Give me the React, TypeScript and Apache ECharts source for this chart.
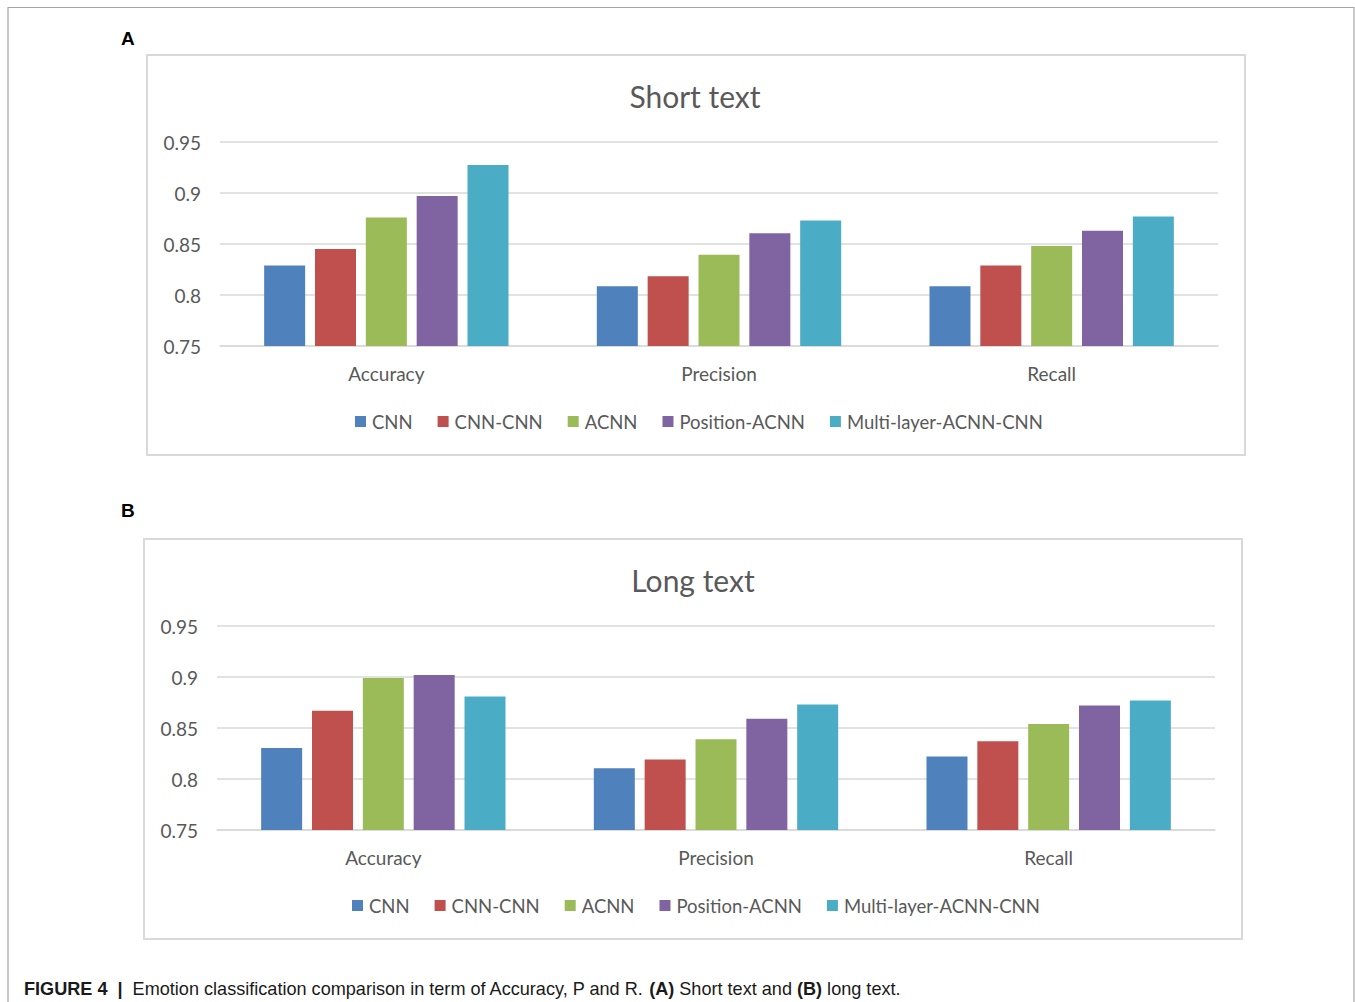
import React, { useEffect, useRef } from "react";
import * as echarts from "echarts";

const categories = ["Accuracy", "Precision", "Recall"];
const seriesNames = ["CNN", "CNN-CNN", "ACNN", "Position-ACNN", "Multi-layer-ACNN-CNN"];
const seriesColors = ["#4f81bd", "#c0504d", "#9bbb59", "#8064a2", "#4bacc6"];
const yTicks = { min: 0.75, max: 0.95, interval: 0.05 };

// Short text (A)
const shortCNN = [0.829, 0.8085, 0.8085];
const shortCNNCNN = [0.845, 0.8185, 0.829];
const shortACNN = [0.876, 0.8395, 0.848];
const shortPositionACNN = [0.897, 0.8605, 0.863];
const shortMultiLayer = [0.9275, 0.873, 0.877];

// Long text (B)
const longCNN = [0.8305, 0.8105, 0.822];
const longCNNCNN = [0.867, 0.819, 0.837];
const longACNN = [0.899, 0.839, 0.854];
const longPositionACNN = [0.902, 0.859, 0.872];
const longMultiLayer = [0.881, 0.873, 0.877];

const shortData = [shortCNN, shortCNNCNN, shortACNN, shortPositionACNN, shortMultiLayer];
const longData = [longCNN, longCNNCNN, longACNN, longPositionACNN, longMultiLayer];

const FONT = "Lato, 'Open Sans', sans-serif";
const GRAY = "#595959";
const GRID_LINE = "#d9d9d9";

export default function App() {
  const ref = useRef<HTMLDivElement>(null);

  useEffect(() => {
    if (!ref.current) return;
    const chart = echarts.init(ref.current, undefined, { renderer: "svg" });

    const xAxisBase = (gridIndex: number) => ({
      type: "category",
      gridIndex,
      data: categories,
      axisLine: { show: true, lineStyle: { color: GRID_LINE, width: 1.5 } },
      axisTick: { show: false },
      axisLabel: { color: GRAY, fontSize: 19, fontFamily: FONT, margin: 18 },
    });
    const yAxisBase = (gridIndex: number) => ({
      type: "value",
      gridIndex,
      min: yTicks.min,
      max: yTicks.max,
      interval: yTicks.interval,
      axisLine: { show: false },
      axisTick: { show: false },
      axisLabel: { color: GRAY, fontSize: 19, fontFamily: FONT, margin: 19 },
      splitLine: { show: true, lineStyle: { color: GRID_LINE, width: 1.5 } },
    });

    const makeSeries = (data: number[][], idx: number) =>
      data.map((vals, i) => ({
        type: "bar",
        name: seriesNames[i],
        xAxisIndex: idx,
        yAxisIndex: idx,
        data: vals,
        barWidth: 41,
        barGap: "24%",
        itemStyle: { color: seriesColors[i] },
      }));

    const legendBase = (top: number, left: number) => ({
      top,
      left,
      data: seriesNames,
      icon: "rect",
      itemWidth: 11,
      itemHeight: 11,
      itemGap: 25,
      textStyle: { color: GRAY, fontSize: 18.5, fontFamily: FONT, padding: [0, 0, 0, 1] },
      selectedMode: false,
    });

    chart.setOption({
      animation: false,
      backgroundColor: "#ffffff",
      title: [
        {
          text: "Short text",
          left: 690,
          top: 76,
          textAlign: "center",
          textStyle: { color: GRAY, fontSize: 30, fontWeight: "normal", fontFamily: FONT },
        },
        {
          text: "Long text",
          left: 688,
          top: 560,
          textAlign: "center",
          textStyle: { color: GRAY, fontSize: 30, fontWeight: "normal", fontFamily: FONT },
        },
      ],
      legend: [legendBase(407, 350), legendBase(891, 347)],
      grid: [
        { left: 220, top: 142, width: 998, height: 204, containLabel: false },
        { left: 217, top: 626, width: 998, height: 204, containLabel: false },
      ],
      xAxis: [xAxisBase(0), xAxisBase(1)],
      yAxis: [yAxisBase(0), yAxisBase(1)],
      series: [...makeSeries(shortData, 0), ...makeSeries(longData, 1)],
      graphic: [
        {
          type: "rect",
          shape: { x: 8, y: 7.5, width: 1346, height: 1010 },
          style: { fill: "none", stroke: "#a6a6a6", lineWidth: 1.2 },
          silent: true,
          z: 0,
        },
        {
          type: "rect",
          shape: { x: 147, y: 55, width: 1098, height: 400 },
          style: { fill: "none", stroke: GRID_LINE, lineWidth: 2 },
          silent: true,
        },
        {
          type: "rect",
          shape: { x: 144, y: 539, width: 1098, height: 400 },
          style: { fill: "none", stroke: GRID_LINE, lineWidth: 2 },
          silent: true,
        },
        {
          type: "text",
          x: 121,
          y: 38,
          style: {
            text: "A",
            fill: "#000",
            font: "bold 19px 'Liberation Sans', Arial, sans-serif",
            verticalAlign: "middle",
          },
        },
        {
          type: "text",
          x: 121,
          y: 510,
          style: {
            text: "B",
            fill: "#000",
            font: "bold 19px 'Liberation Sans', Arial, sans-serif",
            verticalAlign: "middle",
          },
        },
        {
          type: "text",
          x: 24,
          y: 989,
          style: {
            text:
              "{b|FIGURE 4  |  }Emotion classification comparison in term of Accuracy, P and R. {b|(A)} Short text and {b|(B)} long text.",
            fill: "#1a1a1a",
            font: "18.1px 'Liberation Sans', Arial, sans-serif",
            verticalAlign: "middle",
            rich: {
              b: {
                fontWeight: "bold",
                fontSize: 18.1,
                fontFamily: "'Liberation Sans', Arial, sans-serif",
                fill: "#1a1a1a",
              },
            },
          },
        },
      ],
    });

    return () => chart.dispose();
  }, []);

  return (
    <div
      ref={ref}
      style={{ position: "absolute", left: 0, top: 0, width: 1355, height: 1002 }}
    />
  );
}
